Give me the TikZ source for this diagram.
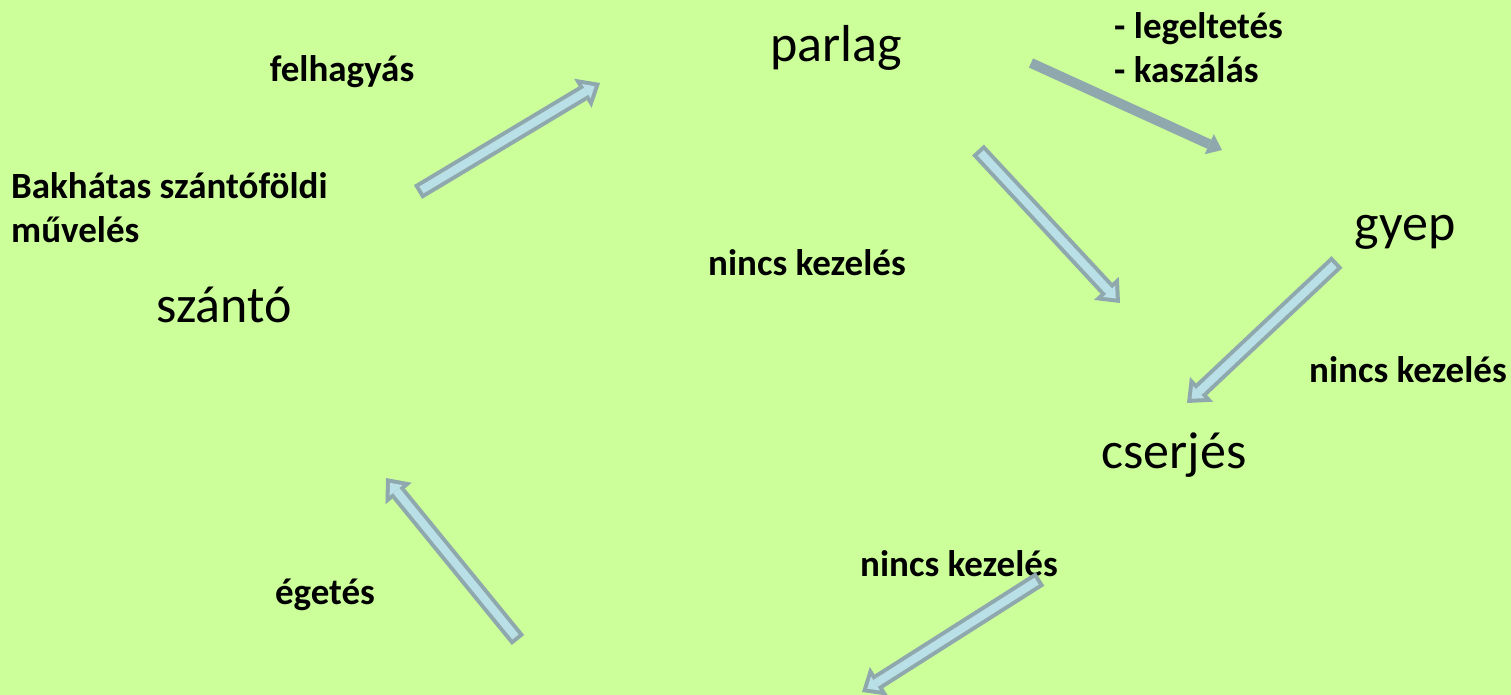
\documentclass[tikz,border=0pt]{standalone}
\usepackage{fontspec}
\setmainfont{Carlito}
\usepackage{tikz}
\usetikzlibrary{arrows.meta, calc}
\definecolor{meadow}{RGB}{204,255,153}
\definecolor{arrowrim}{RGB}{142,168,173}
\definecolor{arrowcore}{RGB}{185,224,230}

\tikzset{
  place/.style={inner sep=0pt, font=\fontsize{52}{62}\selectfont},
  note/.style={inner sep=0pt, align=left, font=\fontsize{37}{44}\selectfont\bfseries},
  rim/.style={draw=arrowrim, line width=16pt, -{Triangle[length=20pt, width=34pt, line width=0pt]}},
  core/.style={draw=arrowcore, line width=8pt, shorten <=4pt, shorten >=6.2pt,
    -{Triangle[length=9.8pt, width=16.7pt, line width=0pt]}},
  flatarrow/.style={draw=arrowrim, line width=10pt, -{Triangle[length=14pt, width=22pt, line width=0pt]}}
}
\newcommand{\blockarrow}[2]{%
  \draw[rim] (#1) -- (#2);
  \draw[core] (#1) -- (#2);}

\begin{document}
\begin{tikzpicture}[x=1pt, y=-1pt]
  \fill[meadow] (0,0) rectangle (1511,695);
  \useasboundingbox (0,0) rectangle (1511,695);

  % places
  \node[place] (parlag) at (836,48) {parlag};
  \node[place] (gyep) at (1405,232) {gyep};
  \node[place] (cserjes) at (1174,455) {cserjés};
  \node[place] (szanto) at (224,305) {szántó};

  % treatments
  \node[note] (felhagyas) at (342,72) {felhagyás};
  \node[note, anchor=west] (legeltetes) at (1114,48) {- legeltetés\\- kaszálás};
  \node[note, anchor=west] (bakhatas) at (11,208) {Bakhátas szántóföldi\\művelés};
  \node[note] (nincsA) at (807,263) {nincs kezelés};
  \node[note, anchor=west] (nincsB) at (1309,370) {nincs kezelés};
  \node[note] (nincsC) at (959,564) {nincs kezelés};
  \node[note] (egetes) at (325,595) {égetés};

  % arrow ends
  \coordinate (felhagyasT) at (418,192);
  \coordinate (felhagyasH) at (600,83);
  \coordinate (legelT) at (1031,63);
  \coordinate (legelH) at (1222,150);
  \coordinate (parlagT) at (978,150);
  \coordinate (parlagH) at (1120,303);
  \coordinate (gyepT) at (1337,262);
  \coordinate (gyepH) at (1187,403);
  \coordinate (cserjesT) at (1040,579);
  \coordinate (cserjesH) at (862,692);
  \coordinate (egetesT) at (518,640);
  \coordinate (egetesH) at (386,478);

  \blockarrow{felhagyasT}{felhagyasH}
  \draw[flatarrow] (legelT) -- (legelH);
  \blockarrow{parlagT}{parlagH}
  \blockarrow{gyepT}{gyepH}
  \blockarrow{cserjesT}{cserjesH}
  \blockarrow{egetesT}{egetesH}
\end{tikzpicture}
\end{document}
